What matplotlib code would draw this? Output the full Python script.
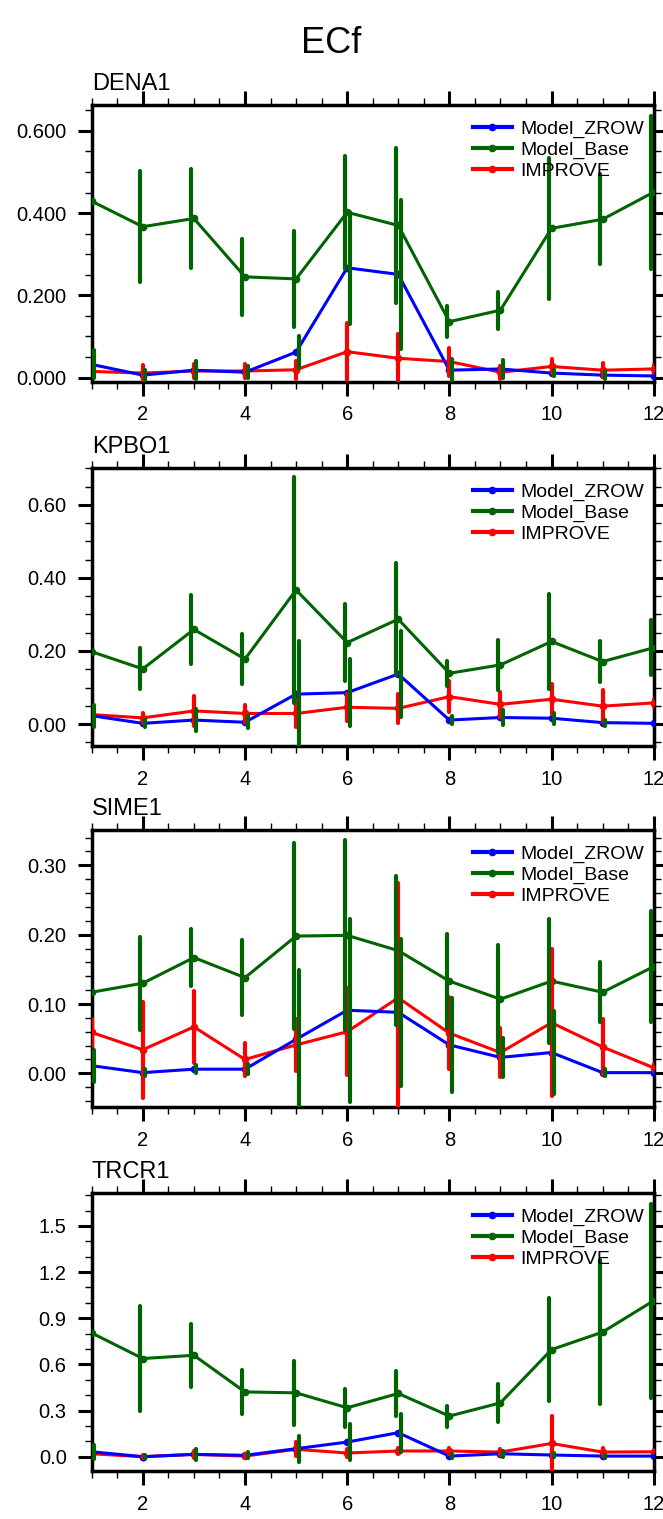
import numpy as np
import matplotlib
matplotlib.use("Agg")
import matplotlib.pyplot as plt
from matplotlib.lines import Line2D
from matplotlib.ticker import MultipleLocator, FormatStrFormatter

plt.rcParams['font.family'] = ['Liberation Sans', 'DejaVu Sans']

months = np.arange(1, 13)
sites = ['DENA1', 'KPBO1', 'SIME1', 'TRCR1']

# monthly means and standard deviations, one list per site
zrow_dena = [0.032, 0.006, 0.018, 0.013, 0.062, 0.267, 0.251, 0.018, 0.021, 0.011, 0.006, 0.004]
zrow_dena_sd = [0.034, 0.012, 0.022, 0.015, 0.038, 0.136, 0.182, 0.028, 0.022, 0.008, 0.009, 0.005]
base_dena = [0.429, 0.367, 0.387, 0.245, 0.240, 0.402, 0.370, 0.136, 0.164, 0.363, 0.385, 0.451]
base_dena_sd = [0.120, 0.135, 0.121, 0.092, 0.117, 0.137, 0.188, 0.038, 0.045, 0.172, 0.109, 0.186]
obs_dena = [0.015, 0.011, 0.016, 0.016, 0.019, 0.063, 0.047, 0.039, 0.013, 0.027, 0.018, 0.021]
obs_dena_sd = [0.012, 0.019, 0.017, 0.018, 0.022, 0.069, 0.059, 0.034, 0.016, 0.017, 0.017, 0.010]

zrow_kpbo = [0.023, 0.002, 0.011, 0.005, 0.082, 0.086, 0.137, 0.011, 0.018, 0.016, 0.004, 0.002]
zrow_kpbo_sd = [0.030, 0.010, 0.030, 0.016, 0.144, 0.092, 0.117, 0.012, 0.020, 0.015, 0.008, 0.005]
base_kpbo = [0.198, 0.151, 0.259, 0.178, 0.367, 0.223, 0.287, 0.139, 0.162, 0.226, 0.171, 0.209]
base_kpbo_sd = [0.060, 0.056, 0.094, 0.068, 0.310, 0.106, 0.153, 0.034, 0.069, 0.129, 0.056, 0.076]
obs_kpbo = [0.026, 0.017, 0.036, 0.029, 0.029, 0.046, 0.043, 0.075, 0.054, 0.068, 0.049, 0.058]
obs_kpbo_sd = [0.010, 0.014, 0.041, 0.023, 0.037, 0.037, 0.039, 0.042, 0.035, 0.041, 0.043, 0.010]

zrow_sime = [0.011, 0.001, 0.006, 0.006, 0.049, 0.091, 0.088, 0.041, 0.023, 0.030, 0.001, 0.001]
zrow_sime_sd = [0.023, 0.005, 0.006, 0.007, 0.100, 0.132, 0.106, 0.068, 0.028, 0.060, 0.005, 0.005]
base_sime = [0.117, 0.130, 0.167, 0.138, 0.198, 0.199, 0.177, 0.133, 0.107, 0.133, 0.117, 0.154]
base_sime_sd = [0.050, 0.067, 0.041, 0.054, 0.134, 0.137, 0.108, 0.068, 0.078, 0.089, 0.043, 0.080]
obs_sime = [0.059, 0.034, 0.067, 0.020, 0.041, 0.060, 0.109, 0.058, 0.030, 0.073, 0.038, 0.008]
obs_sime_sd = [0.020, 0.069, 0.052, 0.024, 0.038, 0.063, 0.165, 0.052, 0.036, 0.106, 0.040, 0.005]

zrow_trcr = [0.032, 0.000, 0.015, 0.009, 0.052, 0.095, 0.156, 0.004, 0.019, 0.011, 0.004, 0.004]
zrow_trcr_sd = [0.046, 0.010, 0.035, 0.020, 0.084, 0.119, 0.124, 0.015, 0.020, 0.010, 0.010, 0.005]
base_trcr = [0.804, 0.638, 0.659, 0.421, 0.415, 0.318, 0.411, 0.264, 0.350, 0.696, 0.810, 1.014]
base_trcr_sd = [0.200, 0.343, 0.205, 0.145, 0.210, 0.124, 0.145, 0.068, 0.123, 0.333, 0.469, 0.630]
obs_trcr = [0.019, 0.000, 0.015, 0.004, 0.048, 0.024, 0.037, 0.037, 0.030, 0.086, 0.030, 0.032]
obs_trcr_sd = [0.015, 0.010, 0.025, 0.015, 0.045, 0.025, 0.020, 0.020, 0.020, 0.178, 0.025, 0.010]

zrow_all = [zrow_dena, zrow_kpbo, zrow_sime, zrow_trcr]
zrow_sd_all = [zrow_dena_sd, zrow_kpbo_sd, zrow_sime_sd, zrow_trcr_sd]
base_all = [base_dena, base_kpbo, base_sime, base_trcr]
base_sd_all = [base_dena_sd, base_kpbo_sd, base_sime_sd, base_trcr_sd]
obs_all = [obs_dena, obs_kpbo, obs_sime, obs_trcr]
obs_sd_all = [obs_dena_sd, obs_kpbo_sd, obs_sime_sd, obs_trcr_sd]

# axis settings per panel: y limits, major step, minor step, label format
ylims = [(-0.010, 0.663), (-0.060, 0.700), (-0.049, 0.351), (-0.093, 1.712)]
ymajor = [0.2, 0.2, 0.1, 0.3]
yminor = [0.05, 0.05, 0.02, 0.1]
yfmt = ['%.3f', '%.2f', '%.2f', '%.1f']

# panel frames in figure pixels (top, bottom)
W, H = 663, 1519
frames = [(105.0, 381.7), (468.3, 746.0), (830.0, 1107.3), (1193.3, 1471.0)]
x0, x1 = 91.7, 653.7

c_zrow = '#0000ff'
c_base = '#006400'
c_obs = '#ff0000'

fig = plt.figure(figsize=(W / 100, H / 100), dpi=100)
fig.text(0.5, 1 - 53 / H, 'ECf', ha='center', va='baseline', fontsize=26)

for i, site in enumerate(sites):
    top, bot = frames[i]
    ax = fig.add_axes([x0 / W, 1 - bot / H, (x1 - x0) / W, (bot - top) / H])

    zr = np.array(zrow_all[i])
    bs = np.array(base_all[i])
    ob = np.array(obs_all[i])

    ax.plot(months, ob, '-o', color=c_obs, lw=2.2, ms=4.5, zorder=3)
    ax.plot(months, zr, '-o', color=c_zrow, lw=2.2, ms=4.5, zorder=3)
    ax.plot(months, bs, '-o', color=c_base, lw=2.2, ms=4.5, zorder=3)

    # std bars: obs centred, base shifted left, zrow shifted right
    ax.vlines(months, ob - np.array(obs_sd_all[i]), ob + np.array(obs_sd_all[i]),
              color=c_obs, lw=3, capstyle='round', zorder=4)
    ax.vlines(months - 0.05, bs - np.array(base_sd_all[i]), bs + np.array(base_sd_all[i]),
              color=c_base, lw=3, capstyle='round', zorder=4)
    ax.vlines(months + 0.05, zr - np.array(zrow_sd_all[i]), zr + np.array(zrow_sd_all[i]),
              color=c_base, lw=3, capstyle='round', zorder=4)

    ax.set_xlim(1, 12)
    ax.set_ylim(*ylims[i])
    ax.xaxis.set_major_locator(MultipleLocator(2))
    ax.xaxis.set_minor_locator(MultipleLocator(0.5))
    ax.yaxis.set_major_locator(MultipleLocator(ymajor[i]))
    ax.yaxis.set_minor_locator(MultipleLocator(yminor[i]))
    ax.yaxis.set_major_formatter(FormatStrFormatter(yfmt[i]))

    ax.tick_params(which='both', direction='out', top=True, right=True,
                   labeltop=False, labelright=False)
    ax.tick_params(which='major', length=10, width=2.2, labelsize=14.5)
    ax.tick_params(axis='y', which='major', pad=8)
    ax.tick_params(axis='x', which='major', pad=7)
    ax.tick_params(which='minor', length=5, width=1.0)
    for sp in ax.spines.values():
        sp.set_linewidth(2.5)

    ax.annotate(site, xy=(0, 1), xycoords='axes fraction', xytext=(0, 15),
                textcoords='offset pixels', ha='left', va='baseline', fontsize=17)

    handles = [Line2D([], [], color=c_zrow, lw=3, marker='o', ms=4.5),
               Line2D([], [], color=c_base, lw=3, marker='o', ms=4.5),
               Line2D([], [], color=c_obs, lw=3, marker='o', ms=4.5)]
    ax.legend(handles, ['Model_ZROW', 'Model_Base', 'IMPROVE'],
              loc='upper left', bbox_to_anchor=(0.678, 0.945), frameon=False,
              fontsize=14, borderpad=0, borderaxespad=0, handlelength=2.0,
              handletextpad=0.45, labelspacing=0.16)

fig.savefig('out.png', dpi=100)
